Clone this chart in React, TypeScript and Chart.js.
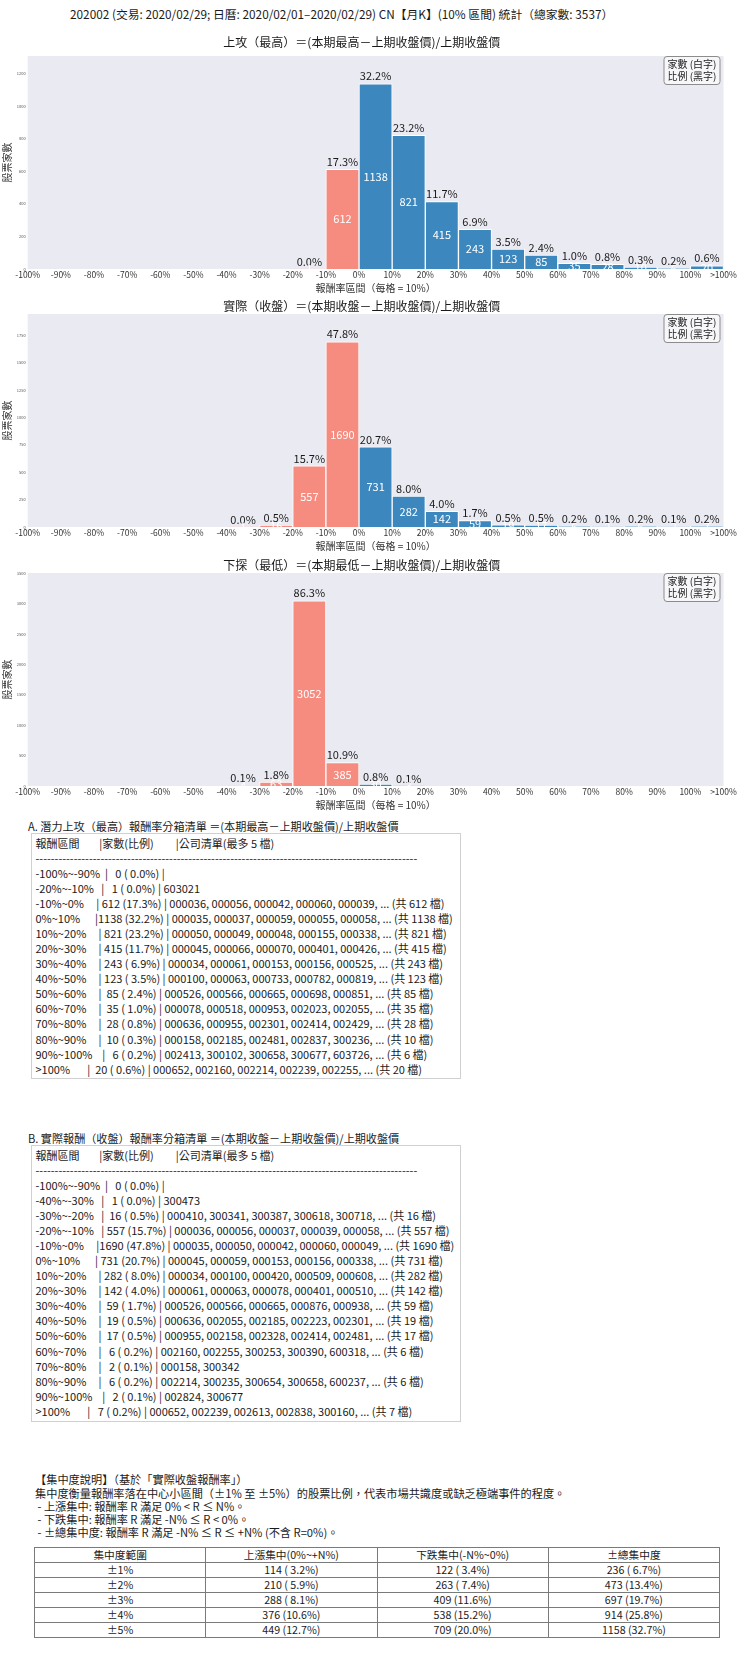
import React, { useEffect, useRef } from 'react';
import { Chart, registerables } from 'chart.js';

Chart.register(...registerables);

const FONT = '"Noto Sans CJK TC", "Noto Sans CJK SC", "Noto Sans", sans-serif';

// ---------- data ----------
const TOTAL_STOCKS = 3537;
const MAIN_TITLE = '202002 (交易: 2020/02/29; 日曆: 2020/02/01–2020/02/29) CN【月K】(10% 區間) 統計（總家數: 3537）';

const X_TICK_LABELS = ['-100%', '-90%', '-80%', '-70%', '-60%', '-50%', '-40%', '-30%', '-20%', '-10%', '0%', '10%', '20%', '30%', '40%', '50%', '60%', '70%', '80%', '90%', '100%', '>100%'];
const BIN_LABELS = ['-100%~-90%', '-90%~-80%', '-80%~-70%', '-70%~-60%', '-60%~-50%', '-50%~-40%', '-40%~-30%', '-30%~-20%', '-20%~-10%', '-10%~0%', '0%~10%', '10%~20%', '20%~30%', '30%~40%', '40%~50%', '50%~60%', '60%~70%', '70%~80%', '80%~90%', '90%~100%', '>100%'];

const HIGH_COUNTS = [0, 0, 0, 0, 0, 0, 0, 0, 1, 612, 1138, 821, 415, 243, 123, 85, 35, 28, 10, 6, 20];
const CLOSE_COUNTS = [0, 0, 0, 0, 0, 0, 1, 16, 557, 1690, 731, 282, 142, 59, 19, 17, 6, 2, 6, 2, 7];
const LOW_COUNTS = [0, 0, 0, 0, 0, 0, 4, 63, 3052, 385, 30, 3, 0, 0, 0, 0, 0, 0, 0, 0, 0];

const HIGH_Y_TICKS = [0, 200, 400, 600, 800, 1000, 1200];
const CLOSE_Y_TICKS = [0, 250, 500, 750, 1000, 1250, 1500, 1750];
const LOW_Y_TICKS = [0, 500, 1000, 1500, 2000, 2500, 3000, 3500];

const HIGH_CODES: string[][] = [
  [], [], [], [], [], [], [], [],
  ['603021'],
  ['000036', '000056', '000042', '000060', '000039'],
  ['000035', '000037', '000059', '000055', '000058'],
  ['000050', '000049', '000048', '000155', '000338'],
  ['000045', '000066', '000070', '000401', '000426'],
  ['000034', '000061', '000153', '000156', '000525'],
  ['000100', '000063', '000733', '000782', '000819'],
  ['000526', '000566', '000665', '000698', '000851'],
  ['000078', '000518', '000953', '002023', '002055'],
  ['000636', '000955', '002301', '002414', '002429'],
  ['000158', '002185', '002481', '002837', '300236'],
  ['002413', '300102', '300658', '300677', '603726'],
  ['000652', '002160', '002214', '002239', '002255'],
];

const CLOSE_CODES: string[][] = [
  [], [], [], [], [], [],
  ['300473'],
  ['000410', '300341', '300387', '300618', '300718'],
  ['000036', '000056', '000037', '000039', '000058'],
  ['000035', '000050', '000042', '000060', '000049'],
  ['000045', '000059', '000153', '000156', '000338'],
  ['000034', '000100', '000420', '000509', '000608'],
  ['000061', '000063', '000078', '000401', '000510'],
  ['000526', '000566', '000665', '000876', '000938'],
  ['000636', '002055', '002185', '002223', '002301'],
  ['000955', '002158', '002328', '002414', '002481'],
  ['002160', '002255', '300253', '300390', '600318'],
  ['000158', '300342'],
  ['002214', '300235', '300654', '300658', '600237'],
  ['002824', '300677'],
  ['000652', '002239', '002613', '002838', '300160'],
];

const CONC_RANGES = ['±1%', '±2%', '±3%', '±4%', '±5%'];
const CONC_UP = [114, 210, 288, 376, 449];
const CONC_DOWN = [122, 263, 409, 538, 709];
const CONC_TOTAL = [236, 473, 697, 914, 1158];
const CONC_HEADERS = ['集中度範圍', '上漲集中(0%~+N%)', '下跌集中(-N%~0%)', '±總集中度'];

const CONC_TEXT = [
  '【集中度說明】（基於「實際收盤報酬率」）',
  '集中度衡量報酬率落在中心小區間（±1% 至 ±5%）的股票比例，代表市場共識度或缺乏極端事件的程度。',
  ' - 上漲集中: 報酬率 R 滿足 0% < R ≤ N%。',
  ' - 下跌集中: 報酬率 R 滿足 -N% ≤ R < 0%。',
  ' - ±總集中度: 報酬率 R 滿足 -N% ≤ R ≤ +N% (不含 R=0%)。',
];

const CHART_TITLES = [
  '上攻（最高）＝(本期最高－上期收盤價)/上期收盤價',
  '實際（收盤）＝(本期收盤－上期收盤價)/上期收盤價',
  '下探（最低）＝(本期最低－上期收盤價)/上期收盤價',
];
const X_TITLE = '報酬率區間（每格 = 10%）';
const Y_TITLE = '股票家數';
const NOTE_LINES = ['家數 (白字)', '比例 (黑字)'];

const LIST_TITLE_A = 'A. 潛力上攻（最高）報酬率分箱清單 ＝(本期最高－上期收盤價)/上期收盤價';
const LIST_TITLE_B = 'B. 實際報酬（收盤）報酬率分箱清單 ＝(本期收盤－上期收盤價)/上期收盤價';
const LIST_HEADER = '報酬區間        |家數(比例)         |公司清單(最多 5 檔)';

// ---------- styles ----------
const RED = '#F68B7F';
const RED_LIGHT = '#F3C1BD';
const BLUE = '#3C88BE';
const BLUE_LIGHT = '#9CC0DC';
const PLOT_BG = '#EAEAF2';

const pct = (c: number) => ((c / TOTAL_STOCKS) * 100).toFixed(1);

function barColor(i: number, c: number) {
  const neg = i < 10;
  const small = c < 10;
  if (neg) return small ? RED_LIGHT : RED;
  return small ? BLUE_LIGHT : BLUE;
}

const bgPlugin = {
  id: 'plotBg',
  beforeDraw(chart: any) {
    const { ctx, chartArea } = chart;
    ctx.save();
    ctx.fillStyle = PLOT_BG;
    ctx.fillRect(chartArea.left, chartArea.top, chartArea.right - chartArea.left, chartArea.bottom - chartArea.top);
    ctx.restore();
  },
};

const barLabelPlugin = {
  id: 'barLabels',
  afterDatasetsDraw(chart: any) {
    const { ctx, chartArea } = chart;
    const meta = chart.getDatasetMeta(0);
    const data = chart.data.datasets[0].data as { x: number; y: number }[];
    meta.data.forEach((bar: any, i: number) => {
      const c = data[i].y;
      if (!c) return;
      const { x, y, base } = bar.getProps(['x', 'y', 'base'], true);
      ctx.save();
      ctx.font = `11px ${FONT}`;
      ctx.textAlign = 'center';
      ctx.textBaseline = 'bottom';
      ctx.fillStyle = '#1a1a1a';
      ctx.fillText(pct(c) + '%', x, y - 2);
      ctx.beginPath();
      ctx.rect(chartArea.left, chartArea.top, chartArea.right - chartArea.left, chartArea.bottom - chartArea.top);
      ctx.clip();
      ctx.textBaseline = 'middle';
      ctx.fillStyle = '#ffffff';
      ctx.fillText(String(c), x, (y + base) / 2);
      ctx.restore();
    });
  },
};

const noteBoxPlugin = {
  id: 'noteBox',
  afterDraw(chart: any) {
    const { ctx, chartArea } = chart;
    const w = 56;
    const h = 28;
    const x = chartArea.right - 3.5 - w;
    const y = chartArea.top + 0.5;
    ctx.save();
    ctx.beginPath();
    ctx.roundRect(x, y, w, h, 3);
    ctx.fillStyle = 'rgba(255,255,255,0.6)';
    ctx.fill();
    ctx.strokeStyle = '#8c8c8c';
    ctx.lineWidth = 1;
    ctx.stroke();
    ctx.fillStyle = '#1a1a1a';
    ctx.font = `10px ${FONT}`;
    ctx.textAlign = 'left';
    ctx.textBaseline = 'middle';
    ctx.fillText(NOTE_LINES[0], x + 3.5, y + 8);
    ctx.fillText(NOTE_LINES[1], x + 3.5, y + 19.5);
    ctx.restore();
  },
};

const CANVAS_H = 261;

function HistChart(props: { top: number; counts: number[]; yTicks: number[]; title: string; titlePad: { top: number; bottom: number } }) {
  const ref = useRef<HTMLCanvasElement>(null);
  useEffect(() => {
    const { counts, yTicks, title, titlePad } = props;
    const maxCount = Math.max(...counts);
    const chart = new Chart(ref.current as HTMLCanvasElement, {
      type: 'bar',
      data: {
        datasets: [
          {
            data: counts.map((c, i) => ({ x: i + 0.5, y: c })),
            backgroundColor: counts.map((c, i) => barColor(i, c)),
            borderColor: '#ffffff',
            borderWidth: 1,
            barPercentage: 1,
            categoryPercentage: 1,
          } as any,
        ],
      },
      options: {
        responsive: false,
        animation: false,
        devicePixelRatio: 1,
        layout: { padding: { left: 0, right: 16.5, top: 0, bottom: 0 } },
        plugins: {
          legend: { display: false },
          tooltip: { enabled: false },
          title: {
            display: true,
            text: title,
            color: '#1a1a1a',
            font: { family: FONT, size: 12, weight: 'normal' },
            padding: titlePad,
          },
        },
        scales: {
          x: {
            type: 'linear',
            min: 0,
            max: 21,
            offset: false,
            grid: { display: false, drawTicks: false, offset: false },
            border: { display: false },
            afterBuildTicks: (s: any) => {
              s.ticks = X_TICK_LABELS.map((_, i) => ({ value: i }));
            },
            ticks: {
              autoSkip: false,
              maxRotation: 0,
              minRotation: 0,
              padding: 1,
              color: '#333',
              font: { family: FONT, size: 8.5 },
              callback: (v: any) => X_TICK_LABELS[Math.round(v)] ?? '',
            },
            title: {
              display: true,
              text: X_TITLE,
              color: '#333',
              font: { family: FONT, size: 10 },
              padding: { top: 0, bottom: 1 },
            },
            afterFit: (s: any) => {
              s.height = 26;
            },
          },
          y: {
            type: 'linear',
            min: 0,
            max: maxCount * 1.15,
            grid: { display: false, drawTicks: false },
            border: { display: false },
            afterBuildTicks: (s: any) => {
              s.ticks = yTicks.map((v) => ({ value: v }));
            },
            ticks: {
              padding: 2,
              color: '#555',
              font: { family: FONT, size: 4 },
              callback: (v: any) => String(v),
            },
            title: {
              display: true,
              text: Y_TITLE,
              color: '#333',
              font: { family: FONT, size: 10 },
              padding: { top: 1.5, bottom: 0 },
            },
            afterFit: (s: any) => {
              s.width = 27.7;
            },
          },
        },
      } as any,
      plugins: [bgPlugin, barLabelPlugin, noteBoxPlugin],
    });
    return () => chart.destroy();
  }, []);
  return (
    <canvas
      ref={ref}
      width={740}
      height={CANVAS_H}
      style={{ position: 'absolute', left: 0, top: props.top, width: 740, height: CANVAS_H }}
    />
  );
}

function binRows(counts: number[], codes: string[][]) {
  const rows: string[] = [];
  counts.forEach((c, i) => {
    if (i !== 0 && c === 0) return;
    let line = BIN_LABELS[i].padEnd(12, ' ') + '|' + String(c).padStart(4, ' ') + ' (' + pct(c).padStart(4, ' ') + '%) |';
    const list = codes[i] || [];
    if (list.length) {
      line += ' ' + list.join(', ');
      if (c > list.length || list.length === 5) line += `, ... (共 ${c} 檔)`;
    }
    rows.push(line);
  });
  return [LIST_HEADER, '-'.repeat(100), ...rows];
}

function ListPanel(props: { titleTop: number; title: string; boxTop: number; boxHeight: number; lines: string[] }) {
  return (
    <>
      <div
        style={{ position: 'absolute', left: 28, top: props.titleTop, fontSize: 11.1, lineHeight: '15px', whiteSpace: 'pre', color: '#1a1a1a' }}
      >
        {props.title}
      </div>
      <div
        style={{
          position: 'absolute',
          left: 30.5,
          top: props.boxTop,
          width: 430.5,
          height: props.boxHeight,
          border: '1px solid #d0d0d0',
          boxSizing: 'border-box',
          padding: '1.5px 0 0 4px',
          fontSize: 11,
          lineHeight: '15.08px',
          whiteSpace: 'pre',
          overflow: 'hidden',
          color: '#1a1a1a',
        }}
      >
        {props.lines.map((l, i) => (
          <div key={i}>{l}</div>
        ))}
      </div>
    </>
  );
}

const cellStyle: React.CSSProperties = {
  border: '1px solid #7a7a7a',
  height: 14,
  padding: 0,
  lineHeight: '14px',
  textAlign: 'center',
  fontSize: 10.7,
  whiteSpace: 'pre',
};

const fmtConc = (n: number) => `${n} (${pct(n).padStart(4, ' ')}%)`;

export default function App() {
  return (
    <div
      style={{
        position: 'absolute',
        left: 0,
        top: 0,
        width: 740,
        height: 1660,
        background: '#ffffff',
        fontFamily: FONT,
        color: '#1a1a1a',
        overflow: 'hidden',
      }}
    >
      <div style={{ position: 'absolute', left: 70, top: 6, fontSize: 11.8, lineHeight: '16px', whiteSpace: 'pre' }}>{MAIN_TITLE}</div>

      <HistChart top={34} counts={HIGH_COUNTS} yTicks={HIGH_Y_TICKS} title={CHART_TITLES[0]} titlePad={{ top: 1, bottom: 6.6 }} />
      <HistChart top={292} counts={CLOSE_COUNTS} yTicks={CLOSE_Y_TICKS} title={CHART_TITLES[1]} titlePad={{ top: 7.6, bottom: 0 }} />
      <HistChart top={551} counts={LOW_COUNTS} yTicks={LOW_Y_TICKS} title={CHART_TITLES[2]} titlePad={{ top: 7.6, bottom: 0 }} />

      <ListPanel titleTop={819.2} title={LIST_TITLE_A} boxTop={833} boxHeight={246} lines={binRows(HIGH_COUNTS, HIGH_CODES)} />
      <ListPanel titleTop={1130.5} title={LIST_TITLE_B} boxTop={1145} boxHeight={277} lines={binRows(CLOSE_COUNTS, CLOSE_CODES)} />

      <div style={{ position: 'absolute', left: 35, top: 1473.4, fontSize: 11.2, lineHeight: '13.2px', whiteSpace: 'pre' }}>
        {CONC_TEXT.map((t, i) => (
          <div key={i}>{t}</div>
        ))}
      </div>

      <table
        style={{
          position: 'absolute',
          left: 34,
          top: 1547,
          width: 686,
          borderCollapse: 'collapse',
          tableLayout: 'fixed',
          color: '#1a1a1a',
        }}
      >
        <tbody>
          <tr>
            {CONC_HEADERS.map((h, i) => (
              <td key={i} style={cellStyle}>
                {h}
              </td>
            ))}
          </tr>
          {CONC_RANGES.map((r, i) => (
            <tr key={i}>
              <td style={cellStyle}>{r}</td>
              <td style={cellStyle}>{fmtConc(CONC_UP[i])}</td>
              <td style={cellStyle}>{fmtConc(CONC_DOWN[i])}</td>
              <td style={cellStyle}>{fmtConc(CONC_TOTAL[i])}</td>
            </tr>
          ))}
        </tbody>
      </table>
    </div>
  );
}
